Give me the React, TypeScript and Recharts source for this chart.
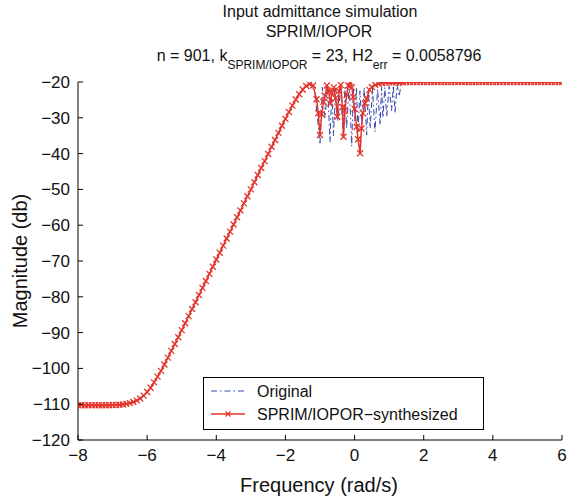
import React from "react";
import { LineChart, Line, XAxis, YAxis } from "recharts";

// [frequency, magnitude dB]
const lowPlateau: [number, number][] = [
  [-8.0, -110.3], [-7.9, -110.3], [-7.8, -110.3], [-7.7, -110.3], [-7.6, -110.3],
  [-7.5, -110.3], [-7.4, -110.3], [-7.3, -110.3], [-7.2, -110.3], [-7.1, -110.3],
  [-7.0, -110.2], [-6.9, -110.2], [-6.8, -110.15], [-6.7, -110.1], [-6.6, -109.9],
];

const rampUp: [number, number][] = [
  [-6.5, -109.7], [-6.4, -109.4], [-6.3, -109.0], [-6.2, -108.4], [-6.1, -107.6],
  [-6.0, -106.6], [-5.9, -105.4], [-5.8, -103.9], [-5.7, -102.3], [-5.6, -100.7],
  [-5.5, -98.9], [-5.4, -97.0], [-5.3, -95.1], [-5.2, -93.2], [-5.1, -91.3],
  [-5.0, -89.3], [-4.9, -87.4], [-4.8, -85.4], [-4.7, -83.4], [-4.6, -81.5],
  [-4.5, -79.5], [-4.4, -77.5], [-4.3, -75.6], [-4.2, -73.6], [-4.1, -71.6],
  [-4.0, -69.6], [-3.9, -67.7], [-3.8, -65.7], [-3.7, -63.7], [-3.6, -61.8],
  [-3.5, -59.8], [-3.4, -57.8], [-3.3, -55.9], [-3.2, -53.9], [-3.1, -51.9],
  [-3.0, -50.0], [-2.9, -48.0], [-2.8, -46.0], [-2.7, -44.0], [-2.6, -42.1],
  [-2.5, -40.1], [-2.4, -38.1], [-2.3, -36.2], [-2.2, -34.2], [-2.1, -32.2],
  [-2.0, -30.3], [-1.9, -28.4], [-1.8, -26.6], [-1.7, -24.9], [-1.6, -23.4],
  [-1.5, -22.1], [-1.4, -21.1], [-1.3, -20.6],
];

const romResonance: [number, number][] = [
  [-1.2, -21.0], [-1.1, -24.8], [-1.05, -28.7], [-1.0, -34.8], [-0.95, -29.0],
  [-0.9, -25.5], [-0.85, -23.8], [-0.8, -21.0], [-0.75, -22.4], [-0.7, -26.0],
  [-0.65, -23.0], [-0.6, -21.5], [-0.55, -24.5], [-0.5, -29.7], [-0.45, -22.5],
  [-0.4, -20.8], [-0.35, -27.0], [-0.32, -35.3], [-0.28, -28.0], [-0.23, -23.6],
  [-0.18, -21.0], [-0.13, -20.0], [-0.08, -21.5], [-0.04, -24.2], [0.0, -27.5],
  [0.06, -32.5], [0.1, -36.0], [0.16, -39.9], [0.2, -33.0], [0.24, -28.7],
  [0.3, -26.0], [0.35, -24.6], [0.43, -22.2], [0.5, -21.4], [0.6, -20.8],
  [0.7, -20.5], [0.8, -20.3], [0.9, -20.2],
];

const highPlateau: [number, number][] = [
  [1.0, -20.1], [1.1, -20.1], [1.2, -20.1], [1.3, -20.1], [1.4, -20.1],
  [1.5, -20.0], [1.6, -20.0], [1.7, -20.0], [1.8, -20.0], [1.9, -20.0],
  [2.0, -20.0], [2.1, -20.0], [2.2, -20.0], [2.3, -20.0], [2.4, -20.0],
  [2.5, -20.0], [2.6, -20.0], [2.7, -20.0], [2.8, -20.0], [2.9, -20.0],
  [3.0, -20.0], [3.1, -20.0], [3.2, -20.0], [3.3, -20.0], [3.4, -20.0],
  [3.5, -20.0], [3.6, -20.0], [3.7, -20.0], [3.8, -20.0], [3.9, -20.0],
  [4.0, -20.0], [4.1, -20.0], [4.2, -20.0], [4.3, -20.0], [4.4, -20.0],
  [4.5, -20.0], [4.6, -20.0], [4.7, -20.0], [4.8, -20.0], [4.9, -20.0],
  [5.0, -20.0], [5.1, -20.0], [5.2, -20.0], [5.3, -20.0], [5.4, -20.0],
  [5.5, -20.0], [5.6, -20.0], [5.7, -20.0], [5.8, -20.0], [5.9, -20.0],
  [6.0, -20.0],
];

const origResonance: [number, number][] = [
  [-1.15, -22.5], [-1.0, -37.5], [-0.93, -21.5], [-0.855, -30.0], [-0.78, -21.0],
  [-0.71, -36.8], [-0.66, -22.0], [-0.61, -35.0], [-0.545, -21.5], [-0.48, -31.0],
  [-0.405, -20.8], [-0.33, -35.4], [-0.28, -21.5], [-0.23, -33.0], [-0.155, -20.5],
  [-0.083, -38.0], [-0.035, -22.0], [0.01, -31.0], [0.055, -21.5], [0.1, -34.0],
  [0.155, -22.5], [0.21, -32.0], [0.28, -21.5], [0.35, -34.8], [0.4, -22.0],
  [0.45, -33.0], [0.52, -21.8], [0.59, -33.9], [0.665, -22.0], [0.74, -32.0],
  [0.78, -21.5], [0.82, -30.0], [0.875, -21.5], [0.93, -29.7], [1.0, -21.2],
  [1.07, -28.0], [1.12, -21.0], [1.17, -28.7], [1.23, -20.8], [1.29, -24.0],
  [1.35, -20.3],
];

const freqTicks = [-8, -6, -4, -2, 0, 2, 4, 6];
const magTicks = [-120, -110, -100, -90, -80, -70, -60, -50, -40, -30, -20];

const toPoints = (pairs: [number, number][]) => pairs.map(([f, db]) => ({ f, db }));

const synthesized = toPoints([...lowPlateau, ...rampUp, ...romResonance, ...highPlateau]);
const original = toPoints([
  ...lowPlateau,
  ...rampUp,
  ...origResonance,
  ...highPlateau.filter(([f]) => f >= 1.4),
]);

const RED = "#e5332a";
const BLUE = "#3347b0";
const FONT = "'Liberation Sans', Arial, Helvetica, sans-serif";

const minus = (v: number) => String(v).replace("-", "\u2212");

const LeftTick = ({ x, y, payload }: any) => (
  <g>
    <line x1={x} x2={x + 5} y1={y} y2={y} stroke="#000" />
    <text x={x - 8} y={y + 6} textAnchor="end" fontSize={17} fontFamily={FONT} fill="#111">
      {minus(payload.value)}
    </text>
  </g>
);
const RightTick = ({ x, y }: any) => (
  <line x1={x} x2={x - 5} y1={y} y2={y} stroke="#000" />
);
const BottomTick = ({ x, y, payload }: any) => (
  <g>
    <line x1={x} x2={x} y1={y} y2={y - 5} stroke="#000" />
    <text x={x} y={y + 21} textAnchor="middle" fontSize={17} fontFamily={FONT} fill="#111">
      {minus(payload.value)}
    </text>
  </g>
);
const TopTick = ({ x, y }: any) => (
  <line x1={x} x2={x} y1={y} y2={y + 5} stroke="#000" />
);

const CrossDot = (props: any) => {
  const { cx, cy, index } = props;
  if (cx == null || cy == null) return <g key={`c${index}`} />;
  const s = 3;
  return (
    <path
      key={`c${index}`}
      d={`M${cx - s},${cy - s}L${cx + s},${cy + s}M${cx - s},${cy + s}L${cx + s},${cy - s}`}
      stroke={RED}
      strokeWidth={1.3}
      fill="none"
    />
  );
};

export default function App() {
  return (
    <div style={{ position: "absolute", left: 0, top: 0, width: 570, height: 501, background: "#fff" }}>
      <LineChart width={570} height={501} margin={{ top: 82, right: 8, bottom: 0, left: 0 }}>
        <XAxis
          dataKey="f"
          type="number"
          domain={[-8, 6]}
          ticks={freqTicks}
          allowDataOverflow
          height={61}
          tickSize={0}
          tickMargin={0}
          tickLine={false}
          axisLine={{ stroke: "#000" }}
          tick={<BottomTick />}
        />
        <XAxis
          xAxisId="top"
          dataKey="f"
          type="number"
          orientation="top"
          domain={[-8, 6]}
          ticks={freqTicks}
          allowDataOverflow
          height={0}
          tickSize={0}
          tickMargin={0}
          tickLine={false}
          axisLine={{ stroke: "#000" }}
          tick={<TopTick />}
        />
        <YAxis
          dataKey="db"
          type="number"
          domain={[-120, -20]}
          ticks={magTicks}
          allowDataOverflow
          width={78}
          tickSize={0}
          tickMargin={0}
          tickLine={false}
          axisLine={{ stroke: "#000" }}
          tick={<LeftTick />}
        />
        <YAxis
          yAxisId="right"
          orientation="right"
          type="number"
          domain={[-120, -20]}
          ticks={magTicks}
          allowDataOverflow
          width={0}
          tickSize={0}
          tickMargin={0}
          tickLine={false}
          axisLine={{ stroke: "#000" }}
          tick={<RightTick />}
        />
        <Line
          data={original}
          dataKey="db"
          type="linear"
          stroke={BLUE}
          strokeWidth={1}
          strokeDasharray="6 3 1.5 3"
          dot={false}
          isAnimationActive={false}
          name="Original"
        />
        <Line
          data={synthesized}
          dataKey="db"
          type="linear"
          stroke={RED}
          strokeWidth={1.5}
          dot={CrossDot}
          activeDot={false}
          isAnimationActive={false}
          name="SPRIM/IOPOR-synthesized"
        />
      </LineChart>

      <svg
        width={570}
        height={501}
        style={{ position: "absolute", left: 0, top: 0, pointerEvents: "none" }}
        fontFamily={FONT}
        fill="#111"
      >
        <text x={320} y={17} textAnchor="middle" fontSize={16}>Input admittance simulation</text>
        <text x={319} y={37} textAnchor="middle" fontSize={16}>SPRIM/IOPOR</text>
        <text x={319} y={61} textAnchor="middle" fontSize={16}>
          n = 901, k
          <tspan fontSize={12} dy={8}>SPRIM/IOPOR</tspan>
          <tspan dy={-8}> = 23, H2</tspan>
          <tspan fontSize={12} dy={8}>err</tspan>
          <tspan dy={-8}> = 0.0058796</tspan>
        </text>
        <text x={319} y={492} textAnchor="middle" fontSize={20}>Frequency (rad/s)</text>
        <text
          x={0}
          y={0}
          transform="translate(27,261) rotate(-90)"
          textAnchor="middle"
          fontSize={20}
        >
          Magnitude (db)
        </text>

        <rect x={203.5} y={377.5} width={280} height={52} fill="#fff" stroke="#000" />
        <line x1={211} x2={245} y1={391} y2={391} stroke={BLUE} strokeDasharray="6 3 1.5 3" />
        <text x={257} y={397} fontSize={16}>Original</text>
        <line x1={211} x2={245} y1={414} y2={414} stroke={RED} strokeWidth={1.5} />
        <path d="M225.5,411.5L230.5,416.5M225.5,416.5L230.5,411.5" stroke={RED} strokeWidth={1.2} />
        <text x={257} y={420} fontSize={16}>SPRIM/IOPOR{"\u2212"}synthesized</text>
      </svg>
    </div>
  );
}
